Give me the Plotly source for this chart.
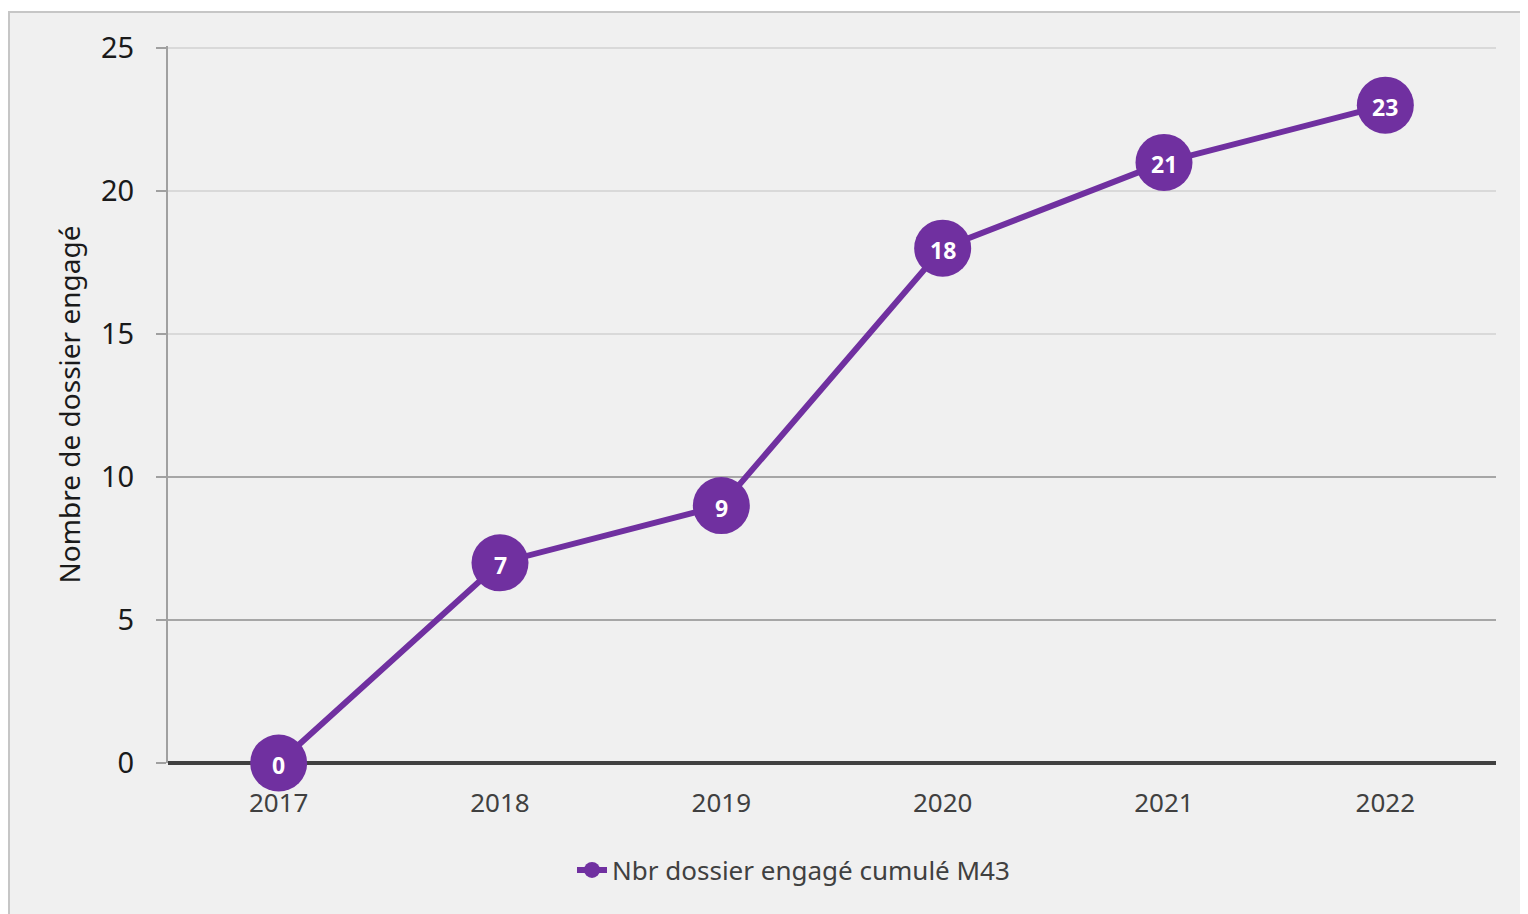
import plotly.graph_objects as go

years = ["2017", "2018", "2019", "2020", "2021", "2022"]
values = [0, 7, 9, 18, 21, 23]
series_name = "Nbr dossier engagé cumulé M43"
y_title = "Nombre de dossier engagé"
y_ticks = [0, 5, 10, 15, 20, 25]
dark_grid_ticks = [5, 10]

purple = "#7030a0"
FONT = "Noto Sans"

W, H = 1520, 906
L, R, T, B = 160, 32, 38, 151
pw, ph = W - L - R, H - T - B
OFF = 8  # page body margin
YMAX = 25.07

fig = go.Figure()
fig.add_trace(go.Scatter(x=years, y=[None] * len(years), yaxis="y2", showlegend=False,
                         hoverinfo="skip"))
fig.add_trace(go.Scatter(
    x=years, y=values, mode="lines+markers", name=series_name,
    line=dict(color=purple, width=6),
    marker=dict(color=purple, size=57),
    cliponaxis=False,
))
for i, v in enumerate(values):
    fig.add_annotation(x=i, y=v, xref="x", yref="y", text=str(v), showarrow=False, yshift=-2,
                       font=dict(color="white", size=23, family=FONT, weight="bold"))

fig.add_shape(type="rect", xref="paper", yref="paper", layer="below",
              x0=(9 - OFF - L) / pw, x1=(W + 40 - L) / pw,
              y0=-(B + 40) / ph, y1=1 + (T - (12 - OFF)) / ph,
              fillcolor="#f0f0f0", line=dict(color="#c6c6c6", width=2))

fig.update_layout(
    width=W, height=H,
    margin=dict(l=L, r=R, t=T, b=B),
    paper_bgcolor="white", plot_bgcolor="rgba(0,0,0,0)",
    font=dict(family=FONT, color="#404040"),
    showlegend=True,
    legend=dict(orientation="h", x=(572 - OFF - L) / pw, xanchor="left",
                y=-(870 - 763) / ph, yanchor="middle",
                font=dict(size=26, color="#404040", family=FONT), bgcolor="rgba(0,0,0,0)"),
    xaxis=dict(type="category", range=[-0.5, 5.5], showgrid=False, ticks="",
               tickfont=dict(size=26, color="#404040", family=FONT),
               ticklabelstandoff=22, showline=False, zeroline=False),
    yaxis=dict(range=[0, YMAX], tickvals=y_ticks, showgrid=True, gridcolor="#d9d9d9", gridwidth=2,
               ticks="outside", ticklen=10, tickcolor="#a0a0a0", tickwidth=2,
               tickfont=dict(size=29, color="#1a1a1a", family=FONT),
               ticklabelstandoff=16,
               showline=True, linecolor="#a0a0a0", linewidth=2,
               zeroline=True, zerolinecolor="#404040", zerolinewidth=4,
               title=dict(text=y_title, font=dict(size=28, color="#1a1a1a", family=FONT), standoff=12)),
    yaxis2=dict(range=[0, YMAX], overlaying="y", tickvals=dark_grid_ticks, showgrid=True,
                gridcolor="#a6a6a6", gridwidth=2, showticklabels=False, ticks="",
                zeroline=False, showline=False),
)

fig.write_html("out.html")
